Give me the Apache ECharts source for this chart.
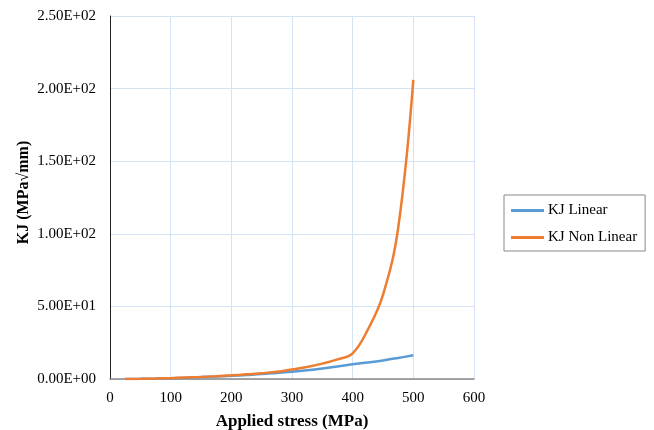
<!DOCTYPE html>
<html>
<head>
<meta charset="utf-8">
<script src="https://cdn.jsdelivr.net/npm/echarts@6/dist/echarts.min.js"></script>
<style>html,body{margin:0;padding:0;background:#fff}#c{width:654px;height:430px}</style>
</head>
<body>
<div id="c"></div>
<script>
var stressLinear = [25, 50, 75, 100, 125, 150, 175, 200, 225, 250, 275, 300, 325, 350, 375, 400, 425, 450, 475, 500];
var kjLinear = [0.05, 0.1, 0.3, 0.6, 0.9, 1.3, 1.7, 2.2, 2.8, 3.4, 4.2, 5.0, 6.0, 7.2, 8.6, 10.2, 11.4, 12.8, 14.5, 16.3];
var stressNonLinear = [25, 50, 75, 100, 125, 150, 175, 200, 225, 250, 275, 300, 325, 350, 375, 400, 425, 450, 475, 500];
var kjNonLinear = [0.05, 0.1, 0.3, 0.6, 1.0, 1.4, 1.9, 2.5, 3.2, 4.0, 5.0, 6.6, 8.3, 10.6, 13.5, 17.7, 34, 58, 104, 206];
var seriesNames = ['KJ Linear', 'KJ Non Linear'];
var xTitle = 'Applied stress (MPa)';
var yTitle = 'KJ (MPa\u221Amm)';

function pairs(xs, ys) { return xs.map(function (x, i) { return [x, ys[i]]; }); }
function sci(v) {
  if (v === 0) return '0.00E+00';
  var e = Math.floor(Math.log10(Math.abs(v)));
  var m = v / Math.pow(10, e);
  var es = (e < 0 ? '-' : '+') + (Math.abs(e) < 10 ? '0' : '') + Math.abs(e);
  return m.toFixed(2) + 'E' + es;
}
var font = 'Liberation Serif';
var chart = echarts.init(document.getElementById('c'));
chart.setOption({
  animation: false,
  textStyle: { fontFamily: font },
  grid: { left: 110, right: 180, top: 16, bottom: 51, containLabel: false, outerBoundsMode: 'none' },
  xAxis: {
    type: 'value', min: 0, max: 600, interval: 100,
    name: xTitle, nameLocation: 'middle', nameGap: 34, nameMoveOverlap: false,
    nameTextStyle: { fontFamily: font, fontSize: 17, fontWeight: 'bold', color: '#000' },
    axisLine: { show: true, lineStyle: { color: '#888', width: 1.5 } },
    axisTick: { show: false },
    axisLabel: { color: '#000', fontSize: 15, fontFamily: font, margin: 12 },
    splitLine: { show: true, lineStyle: { color: '#d4e3f3', width: 1 } }
  },
  yAxis: {
    type: 'value', min: 0, max: 250, interval: 50,
    name: yTitle, nameLocation: 'middle', nameGap: 78, nameRotate: 90, nameMoveOverlap: false,
    nameTextStyle: { fontFamily: font, fontSize: 16, fontWeight: 'bold', color: '#000', padding: [0, 0, 0, 10] },
    axisLine: { show: true, lineStyle: { color: '#222', width: 1 } },
    axisTick: { show: false },
    axisLabel: { color: '#000', fontSize: 15, fontFamily: font, margin: 14, formatter: sci },
    splitLine: { show: true, lineStyle: { color: '#d4e3f3', width: 1 } }
  },
  legend: {
    orient: 'vertical', left: 504, top: 195,
    padding: [8, 8, 6, 7], itemGap: 12,
    borderColor: '#888', borderWidth: 1,
    icon: 'rect', itemWidth: 33, itemHeight: 3,
    textStyle: { fontFamily: font, fontSize: 15, color: '#000', padding: [0, 0, 0, -1] },
    data: seriesNames
  },
  series: [
    { name: seriesNames[0], type: 'line', data: pairs(stressLinear, kjLinear), showSymbol: false, symbol: 'none', smooth: 0.4,
      lineStyle: { color: '#5b9bd5', width: 2.5 }, itemStyle: { color: '#5b9bd5' } },
    { name: seriesNames[1], type: 'line', data: pairs(stressNonLinear, kjNonLinear), showSymbol: false, symbol: 'none', smooth: 0.4,
      lineStyle: { color: '#ed7d31', width: 2.5 }, itemStyle: { color: '#ed7d31' } }
  ]
});
</script>
</body>
</html>
